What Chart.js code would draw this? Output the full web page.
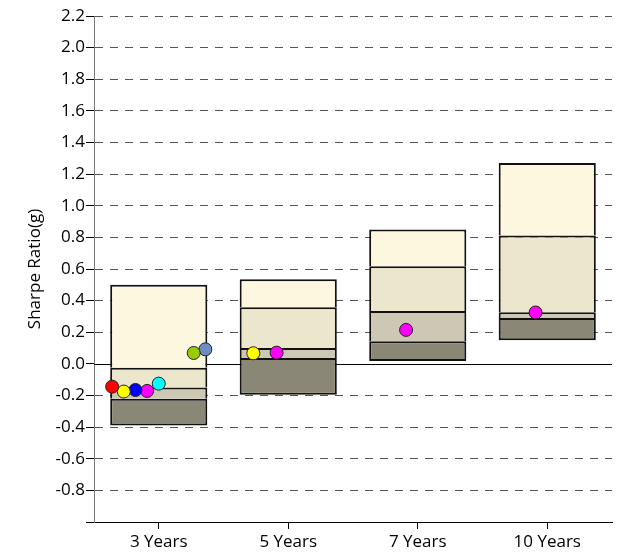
<!DOCTYPE html>
<html>
<head>
<meta charset="utf-8">
<script src="https://cdn.jsdelivr.net/npm/chart.js@4"></script>
<style>
  html, body { margin: 0; padding: 0; background: #fff; }
  #wrap { width: 620px; height: 552px; }
</style>
</head>
<body>
<div id="wrap"><canvas id="chart"></canvas></div>
<script>
// data
const categories = ['3 Years', '5 Years', '7 Years', '10 Years']

// box edges, bottom to top
const p05 = [-0.39, -0.195, 0.018, 0.149]
const p25 = [-0.22, 0.037, 0.143, 0.29]
const p50 = [-0.15, 0.10, 0.335, 0.327]
const p75 = [-0.025, 0.358, 0.618, 0.812]
const p95 = [0.50, 0.535, 0.85, 1.27]

// fund points (null = not shown)
const redFund = [-0.144, null, null, null]
const yellowFund = [-0.175, 0.067, null, null]
const blueFund = [-0.165, null, null, null]
const magentaFund = [-0.171, 0.071, 0.215, 0.325]
const cyanFund = [-0.125, null, null, null]
const greenFund = [0.069, null, null, null]
const steelFund = [0.092, null, null, null]

const yTicksMin = -1.0
const yTicksMax = 2.2

// CHART CONFIG

const FONT = '"Open Sans", Lato, sans-serif'
Chart.defaults.font.family = FONT
Chart.defaults.font.size = 17
Chart.defaults.color = '#000'

// lowest band gets a full frame, upper bands skip the bottom edge
// so the shared edges stay one line thick
function band(lo, hi, color, first) {
  return {
    type: 'bar',
    data: categories.map((c, i) => [lo[i], hi[i]]),
    backgroundColor: color,
    borderColor: '#111',
    borderWidth: { top: 2, left: 2, right: 2, bottom: first ? 2 : 0 },
    borderSkipped: false,
    grouped: false,
    barPercentage: 0.75,
    categoryPercentage: 1,
    order: 2
  }
}

function dots(values, shift, color) {
  return {
    type: 'scatter',
    xAxisID: 'x2',
    data: values
      .map((v, i) => (v === null ? null : { x: i + shift, y: v }))
      .filter(p => p !== null),
    backgroundColor: color,
    borderColor: '#222',
    borderWidth: 1,
    pointRadius: 6.5,
    pointHoverRadius: 6.5,
    order: 0
  }
}

// solid zero line behind the boxes
const zeroLine = {
  id: 'zeroLine',
  beforeDatasetsDraw(chart) {
    const { ctx, chartArea, scales } = chart
    const y = Math.round(scales.y.getPixelForValue(0)) + 0.5
    ctx.save()
    ctx.strokeStyle = '#000'
    ctx.lineWidth = 1
    ctx.beginPath()
    ctx.moveTo(chartArea.left, y)
    ctx.lineTo(chartArea.right, y)
    ctx.stroke()
    ctx.restore()
  }
}

const isZero = v => Math.abs(v) < 1e-9

const ctx = document.getElementById('chart').getContext('2d')
const chart = new Chart(ctx, {
  type: 'bar',
  data: {
    labels: categories,
    datasets: [
      dots(redFund, -0.36, '#ff0000'),
      dots(yellowFund, -0.27, '#ffff00'),
      dots(blueFund, -0.18, '#0000ff'),
      dots(magentaFund, -0.09, '#ff00ff'),
      dots(cyanFund, 0, '#00ffff'),
      dots(greenFund, 0.27, '#99cc00'),
      dots(steelFund, 0.36, '#6b8fbf'),
      band(p05, p25, '#8b8776', true),
      band(p25, p50, '#cdc8b3'),
      band(p50, p75, '#ece6cc'),
      band(p75, p95, '#fef7df')
    ]
  },
  options: {
    responsive: true,
    maintainAspectRatio: false,
    animation: false,
    layout: { padding: { left: 0, top: 16, right: 8, bottom: 0 } },
    plugins: {
      legend: { display: false },
      tooltip: { enabled: false }
    },
    scales: {
      x: {
        type: 'category',
        offset: true,
        grid: {
          offset: false,
          drawOnChartArea: false,
          tickLength: 7,
          tickColor: '#000'
        },
        border: { color: '#000', width: 1 },
        ticks: { padding: 3, font: { size: 17 } },
        afterFit(s) { s.height = 30 }
      },
      x2: {
        type: 'linear',
        display: false,
        offset: false,
        min: -0.5,
        max: 3.5
      },
      y: {
        min: yTicksMin,
        max: yTicksMax,
        ticks: {
          stepSize: 0.2,
          padding: 1,
          font: { size: 17 },
          callback: v => (v < -0.99 ? '' : v.toFixed(1))
        },
        grid: {
          color: c => (isZero(c.tick.value) ? 'rgba(0,0,0,0)' : '#555'),
          tickColor: '#000',
          tickLength: 8,
          tickBorderDash: []
        },
        border: {
          color: '#777',
          width: 1,
          dash: [8, 7]
        },
        title: {
          display: true,
          text: 'Sharpe Ratio(g)',
          font: { size: 17 },
          padding: { top: 25, bottom: 0 }
        },
        afterFit(s) { s.width = 94 }
      }
    }
  },
  plugins: [zeroLine]
})
</script>
</body>
</html>
